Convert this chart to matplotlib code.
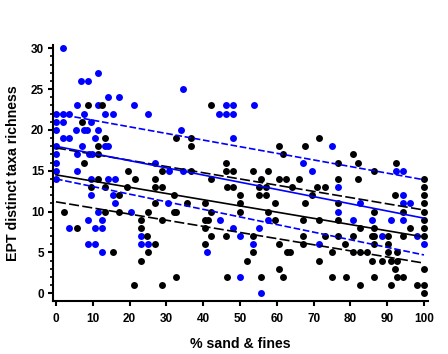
import matplotlib
matplotlib.use("Agg")
import matplotlib.pyplot as plt
from matplotlib.ticker import MultipleLocator

plt.rcParams['font.family'] = ['Liberation Sans', 'DejaVu Sans']

# Black series (x = % sand & fines, y = EPT distinct taxa richness)
black_x = [8.8, 12.4, 7.1, 13.4, 11.5, 11.5, 7.7, 19.6, 11.5, 21.4, 9.6, 13.4, 19.2, 17.2,
           2.3, 13.4, 17.2, 24.9, 23.1, 5.8, 23.1, 24.8, 15.4, 24.9, 23.1, 21.1,
           42.2, 32.6, 36.6, 36.6, 60.7, 61.6, 46.3,
           28.8, 36.6, 46.3, 48.1, 53.6, 57.6,
           26.8, 42.2, 55.8, 60.7, 62.4,
           26.8, 28.8, 46.4, 48.1, 55.3, 57.1, 64.2,
           32.0, 50.0, 55.3, 57.1,
           26.8, 35.7, 40.4, 50.0, 59.6,
           32.0, 32.6, 42.2, 50.0, 57.6,
           28.8, 40.4, 41.2, 59.6,
           40.4,
           42.2, 46.2, 53.6,
           26.8, 40.4, 60.7,
           53.6, 62.8,
           51.8,
           60.7,
           32.6, 46.4, 55.8, 61.6,
           28.8,
           71.4, 67.8, 80.8, 76.7, 82.1, 66.1, 76.7, 82.2,
           71.0, 73.0, 69.6, 67.8, 76.7,
           67.2, 71.6, 76.7,
           82.6,
           67.2, 73.0, 76.7, 80.8,
           67.2, 78.5,
           63.5, 74.9, 80.8, 82.6,
           71.6,
           74.9, 78.8,
           82.6,
           92.3, 86.5, 100, 100, 92.2, 100, 100,
           86.5, 94.2, 100, 100,
           86.5, 96.2, 100,
           85.8, 86.5, 90.3, 94.2, 100,
           86.5, 90.3,
           84.5, 90.3, 92.8,
           85.8, 88.5, 91.0, 92.8,
           92.2, 100,
           86.5, 92.8, 94.2,
           91.0, 98.2, 100,
           100]
black_y = [23, 23, 21, 19, 18, 17, 16, 15, 14, 14, 13, 13, 13, 12,
           10, 10, 10, 10, 9, 8, 8, 7, 5, 5, 4, 1,
           23, 19, 19, 18, 18, 17, 16,
           15, 15, 15, 15, 15, 15,
           14, 14, 14, 14, 14,
           13, 13, 13, 13, 13, 13, 13,
           12, 12, 12, 12,
           11, 11, 11, 11, 11,
           10, 10, 10, 10, 10,
           9, 9, 9, 9,
           8,
           7, 7, 7,
           6, 6, 6,
           5, 5,
           4,
           3,
           2, 2, 2, 2,
           1,
           19, 18, 17, 16, 16, 14, 14, 14,
           13, 13, 12, 11, 11,
           9, 9, 9,
           8,
           7, 7, 7, 7,
           6, 6,
           5, 5, 5, 5,
           4,
           2, 2,
           1,
           16, 15, 14, 13, 12, 12, 11,
           10, 10, 10, 9,
           8, 8, 8,
           7, 7, 7, 7, 7,
           6, 6,
           5, 5, 5,
           4, 4, 4, 4,
           3, 3,
           2, 2, 2,
           1, 1, 1,
           0]

# Blue series
blue_x = [1.8, 11.5, 6.9, 8.8, 14.2, 17.2, 5.8, 11.5, 21.1,
          0, 1.8, 3.6, 7.7, 13.3, 15.4, 24.9,
          0, 1.8, 9.6,
          0, 5.4, 7.7, 8.5, 11.5,
          1.8, 3.6, 10.7,
          0, 7.1, 13.4, 14.2,
          0, 5.8, 9.0, 9.9,
          0, 0, 5.8,
          0, 9.6, 14.2, 16.0,
          9.6, 15.4, 16.0,
          11.5, 20.5,
          8.8, 12.5,
          3.6, 10.7, 12.5,
          23.1,
          8.8, 10.7, 23.1, 24.9,
          12.5,
          34.6, 46.1, 48.1, 53.8, 44.2, 46.1, 48.1, 33.9, 48.1, 26.8, 30.7, 34.6,
          30.4, 44.5, 57.6, 48.2, 55.2, 50.0, 53.6, 41.1, 50.0, 55.8,
          74.9, 67.2, 69.6, 76.7, 76.7, 80.8, 71.6, 82.6,
          92.3, 94.2, 94.2, 94.2, 96.2, 85.8, 91.0, 94.2, 88.5, 98.2, 100]
blue_y = [30, 27, 26, 26, 24, 24, 23, 23, 23,
          22, 22, 22, 22, 22, 22, 22,
          21, 21, 21,
          20, 20, 20, 20, 20,
          19, 19, 19,
          18, 18, 18, 18,
          17, 17, 17, 17,
          16, 15, 15,
          14, 14, 14, 14,
          12, 12, 11,
          10, 10,
          9, 9,
          8, 8, 8,
          7,
          6, 6, 6, 6,
          5,
          25, 23, 23, 23, 22, 22, 22, 20, 19, 16, 15, 15,
          11, 9, 9, 8, 8, 7, 6, 5, 2, 0,
          18, 16, 15, 13, 10, 9, 6, 11,
          15, 15, 12, 11, 11, 9, 9, 9, 7, 7, 6]

# Fitted lines (values at x = 0 and x = 100)
line_x = [0, 100]
black_fit = [14.5, 6.9]
black_upper = [17.8, 10.2]
black_lower = [11.2, 3.7]
blue_fit = [18.0, 9.2]
blue_upper = [22.0, 13.9]
blue_lower = [14.0, 4.7]

x_ticks = [0, 10, 20, 30, 40, 50, 60, 70, 80, 90, 100]
y_ticks = [0, 5, 10, 15, 20, 25, 30]

fig = plt.figure(figsize=(4.48, 3.54), dpi=100)
ax = fig.add_axes([0.1176, 0.1506, 0.837, 0.7224])

ax.scatter(blue_x, blue_y, s=25, color='#0000ff', linewidths=0, clip_on=False, zorder=2)
ax.scatter(black_x, black_y, s=25, color='black', linewidths=0, clip_on=False, zorder=3)

lw = 1.2
ax.plot(line_x, black_fit, color='black', lw=lw, zorder=4)
ax.plot(line_x, black_upper, color='black', lw=lw, dashes=(6, 2), zorder=4)
ax.plot(line_x, black_lower, color='black', lw=lw, dashes=(6, 2), zorder=4)
ax.plot(line_x, blue_fit, color='#0000ff', lw=lw, zorder=5)
ax.plot(line_x, blue_upper, color='#0000ff', lw=lw, dashes=(4, 1.6), zorder=5)
ax.plot(line_x, blue_lower, color='#0000ff', lw=lw, dashes=(4, 1.6), zorder=5)

ax.set_xlim(-0.9, 101)
ax.set_ylim(-0.9, 30.4)
for s in ['top', 'right']:
    ax.spines[s].set_visible(False)
for s in ['left', 'bottom']:
    ax.spines[s].set_linewidth(1.5)

ax.set_xticks(x_ticks)
ax.set_yticks(y_ticks)
ax.yaxis.set_minor_locator(MultipleLocator(1))
ax.tick_params(axis='both', which='major', width=1.5, length=3.6, labelsize=8.5)
ax.tick_params(axis='y', which='minor', width=1.2, length=2)
ax.tick_params(axis='x', which='major', pad=5)
ax.tick_params(axis='y', which='major', pad=2.5)
for lab in ax.get_xticklabels() + ax.get_yticklabels():
    lab.set_fontweight('bold')

ax.set_xlabel('% sand & fines', fontsize=10.2, fontweight='bold', labelpad=9)
ax.set_ylabel('EPT distinct taxa richness', fontsize=10.2, fontweight='bold', labelpad=8)

fig.savefig('out.png', dpi=100)
